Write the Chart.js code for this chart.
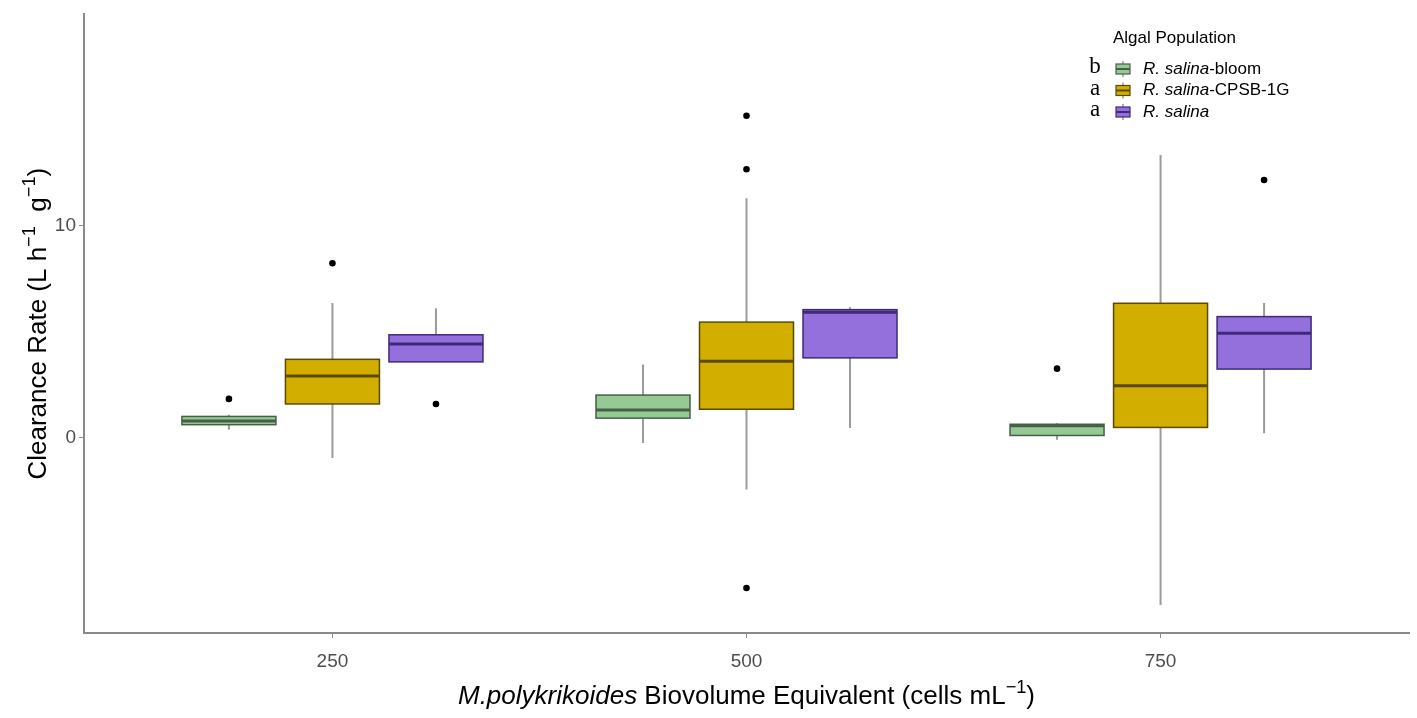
<!DOCTYPE html>
<html>
<head>
<meta charset="utf-8">
<script src="https://cdn.jsdelivr.net/npm/chart.js@4.4.1/dist/chart.umd.min.js"></script>
<style>
  html, body { margin: 0; padding: 0; background: #fff; }
  #wrap { width: 1417px; height: 718px; }
</style>
</head>
<body>
<div id="wrap"><canvas id="boxes" width="1417" height="718"></canvas></div>
<script>
const categories = ['250', '500', '750'];
const groups = ['R. salina-bloom', 'R. salina-CPSB-1G', 'R. salina'];
const groupLetters = ['b', 'a', 'a'];
const yTicks = [0, 10];

// per category: [lower whisker, q1, median, q3, upper whisker]
const bloomBox = [[0.36, 0.60, 0.78, 0.99, 1.07], [-0.27, 0.91, 1.30, 2.00, 3.44], [-0.11, 0.09, 0.55, 0.62, 0.67]];
const cpsbBox = [[-0.97, 1.58, 2.90, 3.69, 6.35], [-2.46, 1.33, 3.60, 5.45, 11.31], [-7.93, 0.47, 2.44, 6.34, 13.35]];
const salinaBox = [[3.57, 3.57, 4.41, 4.85, 6.10], [0.44, 3.76, 5.92, 6.04, 6.15], [0.20, 3.23, 4.92, 5.71, 6.35]];

const bloomOutliers = [[1.82], [], [3.25]];
const cpsbOutliers = [[8.23], [15.21, 12.68, -7.12], []];
const salinaOutliers = [[1.58], [], [12.17]];

const allBoxes = [bloomBox, cpsbBox, salinaBox];
const allOutliers = [bloomOutliers, cpsbOutliers, salinaOutliers];

const offsets = [-0.25, 0, 0.25];
const boxWidth = 0.227;
const fills = ['#95ca95', '#d2ae00', '#9370db'];
const edges = ['#465f46', '#5a4a00', '#3e2a78'];
const FONT = '"Liberation Sans", Arial, sans-serif';

function richText(ctx, pieces, x, y, size, align) {
  const fontOf = p => (p.italic ? 'italic ' : '') + (p.sup ? size * 0.7 : size) + 'px ' + FONT;
  let total = 0;
  pieces.forEach(p => { ctx.font = fontOf(p); total += ctx.measureText(p.t).width; });
  let cx = align === 'left' ? x : x - total / 2;
  ctx.textAlign = 'left';
  pieces.forEach(p => {
    ctx.font = fontOf(p);
    ctx.fillText(p.t, cx, p.sup ? y - size * 0.42 : y);
    cx += ctx.measureText(p.t).width;
  });
}

const boxPlot = {
  id: 'boxPlot',
  beforeDatasetsDraw(chart) {
    const { ctx, scales: { x, y } } = chart;
    const half = (x.getPixelForValue(boxWidth) - x.getPixelForValue(0)) / 2;
    ctx.save();
    allBoxes.forEach((boxes, g) => {
      boxes.forEach((b, i) => {
        const cx = x.getPixelForValue(i + 1 + offsets[g]);
        const [lo, q1, med, q3, hi] = b.map(v => y.getPixelForValue(v));
        ctx.strokeStyle = '#9b9b9b';
        ctx.lineWidth = 2;
        ctx.beginPath();
        ctx.moveTo(cx, hi); ctx.lineTo(cx, q3);
        ctx.moveTo(cx, q1); ctx.lineTo(cx, lo);
        ctx.stroke();
        ctx.fillStyle = fills[g];
        ctx.fillRect(cx - half, q3, half * 2, q1 - q3);
        ctx.strokeStyle = edges[g];
        ctx.lineWidth = 1.5;
        ctx.strokeRect(cx - half, q3, half * 2, q1 - q3);
        ctx.lineWidth = 3;
        ctx.beginPath();
        ctx.moveTo(cx - half, med); ctx.lineTo(cx + half, med);
        ctx.stroke();
      });
    });
    ctx.restore();
  },
  afterDraw(chart) {
    const { ctx, chartArea } = chart;
    ctx.save();
    ctx.fillStyle = '#000';
    ctx.textBaseline = 'alphabetic';
    // x title
    richText(ctx, [
      { t: 'M.polykrikoides', italic: true },
      { t: ' Biovolume Equivalent (cells mL' },
      { t: '\u22121', sup: true },
      { t: ')' }
    ], (chartArea.left + chartArea.right) / 2, 704, 26);
    // y title
    ctx.save();
    ctx.translate(46, (chartArea.top + chartArea.bottom) / 2);
    ctx.rotate(-Math.PI / 2);
    richText(ctx, [
      { t: 'Clearance Rate (L h' },
      { t: '\u22121', sup: true },
      { t: '  g' },
      { t: '\u22121', sup: true },
      { t: ')' }
    ], 0, 0, 26);
    ctx.restore();
    // legend
    ctx.textBaseline = 'middle';
    ctx.font = '17px ' + FONT;
    ctx.textAlign = 'left';
    ctx.fillText('Algal Population', 1113, 38);
    groups.forEach((name, g) => {
      const ry = 69 + g * 21.5;
      ctx.font = '23px "Liberation Serif", serif';
      ctx.textAlign = 'center';
      ctx.fillStyle = '#000';
      ctx.fillText(groupLetters[g], 1095, ry - 2);
      ctx.strokeStyle = '#9b9b9b';
      ctx.lineWidth = 1.5;
      ctx.beginPath();
      ctx.moveTo(1123, ry - 8); ctx.lineTo(1123, ry + 8);
      ctx.stroke();
      ctx.fillStyle = fills[g];
      ctx.fillRect(1116, ry - 5, 14, 10);
      ctx.strokeStyle = edges[g];
      ctx.lineWidth = 1.2;
      ctx.strokeRect(1116, ry - 5, 14, 10);
      ctx.lineWidth = 2;
      ctx.beginPath();
      ctx.moveTo(1116, ry); ctx.lineTo(1130, ry);
      ctx.stroke();
      ctx.fillStyle = '#000';
      const dash = name.indexOf('-');
      const pieces = dash < 0 ? [{ t: name, italic: true }]
        : [{ t: name.slice(0, dash), italic: true }, { t: name.slice(dash) }];
      richText(ctx, pieces, 1143, ry, 17, 'left');
    });
    ctx.restore();
  }
};

const outlierSets = allOutliers.map((sets, g) => ({
  label: groups[g],
  data: sets.flatMap((vals, i) => vals.map(v => ({ x: i + 1 + offsets[g], y: v }))),
  backgroundColor: '#000',
  borderWidth: 0,
  pointRadius: 3.3
}));

const ctx = document.getElementById('boxes');

const chart = new Chart(ctx, {
  type: 'scatter',
  data: { datasets: outlierSets },
  options: {
    responsive: false,
    animation: false,
    layout: { padding: { top: 10, right: 8, left: 0, bottom: 0 } },
    plugins: {
      legend: { display: false },
      tooltip: { enabled: false }
    },
    scales: {
      x: {
        type: 'linear',
        min: 0.4,
        max: 3.6,
        afterBuildTicks: s => { s.ticks = categories.map((c, i) => ({ value: i + 1 })); },
        afterFit: s => { s.height = 85; },
        ticks: {
          callback: v => categories[v - 1],
          color: '#4d4d4d',
          font: { family: FONT, size: 19 },
          padding: 12
        },
        grid: { drawOnChartArea: false, drawTicks: true, tickLength: 5, color: '#8a8a8a' },
        border: { display: true, color: '#8a8a8a', width: 2 }
      },
      y: {
        min: -9.25,
        max: 20,
        afterBuildTicks: s => { s.ticks = yTicks.map(v => ({ value: v })); },
        afterFit: s => { s.width = 84; },
        ticks: {
          color: '#4d4d4d',
          font: { family: FONT, size: 19 },
          padding: 3
        },
        grid: { drawOnChartArea: false, drawTicks: true, tickLength: 5, color: '#8a8a8a' },
        border: { display: true, color: '#8a8a8a', width: 2 }
      }
    }
  },
  plugins: [boxPlot]
});
</script>
</body>
</html>
